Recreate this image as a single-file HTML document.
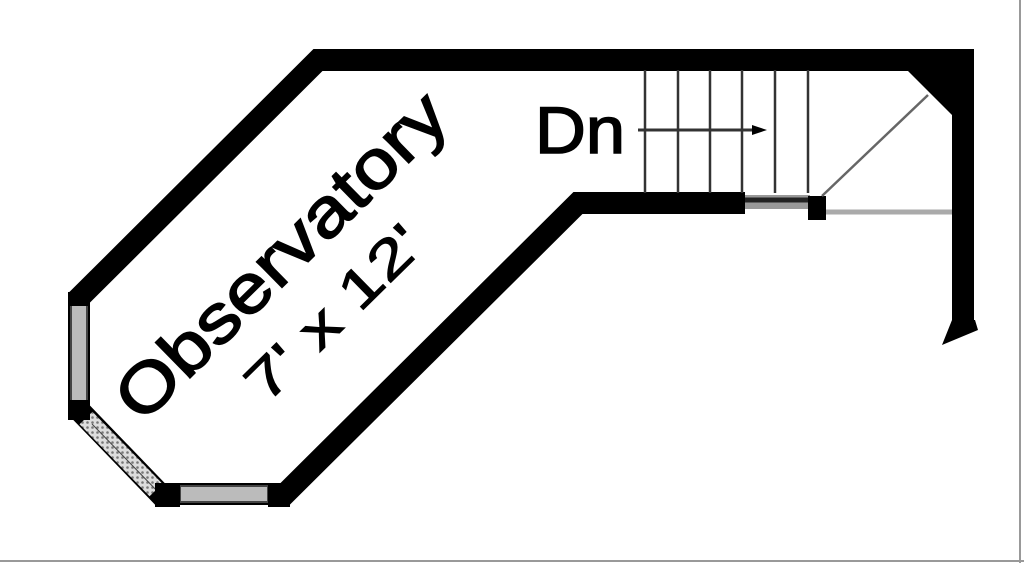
<!DOCTYPE html>
<html><head><meta charset="utf-8"><style>
html,body{margin:0;padding:0;background:#fff;width:1024px;height:563px;overflow:hidden}
svg{display:block}
text{font-family:"Liberation Sans",sans-serif;fill:#000;stroke:#000;stroke-width:1.6}
</style></head><body>
<svg width="1024" height="563" viewBox="0 0 1024 563">
<defs>
<pattern id="hatch" width="5" height="5" patternUnits="userSpaceOnUse">
<rect width="5" height="5" fill="#ddd"/><circle cx="2.5" cy="2.5" r="1.3" fill="#777"/>
</pattern>
</defs>
<line x1="1020" y1="0" x2="1020" y2="563" stroke="#999" stroke-width="2"/>
<line x1="0" y1="561" x2="1024" y2="561" stroke="#999" stroke-width="2"/>
<polyline points="963,330 963,60 318,60 79,298 79,410 160,494 285,494 578,203 745,203" fill="none" stroke="#000" stroke-width="22" stroke-linejoin="miter"/>
<polygon points="905,68 955,68 955,118" fill="#000"/>
<polygon points="952,320 975,320 978,330 942,345" fill="#000"/>
<rect x="71" y="305" width="16" height="97" fill="#bbb" stroke="#444" stroke-width="2"/>
<rect x="180" y="486" width="88" height="16" fill="#bbb" stroke="#444" stroke-width="2"/>
<line x1="86" y1="418" x2="156" y2="490" stroke="url(#hatch)" stroke-width="18"/>
<line x1="92" y1="424" x2="162" y2="496" stroke="#444" stroke-width="1"/>
<rect x="68" y="292" width="22" height="14" fill="#000"/>
<rect x="68" y="400" width="22" height="20" fill="#000"/>
<rect x="155" y="483" width="25" height="24" fill="#000"/>
<rect x="268" y="483" width="22" height="24" fill="#000"/>
<g stroke="#333" stroke-width="2.5">
<line x1="645" y1="70" x2="645" y2="193"/><line x1="678" y1="70" x2="678" y2="193"/>
<line x1="710" y1="70" x2="710" y2="193"/><line x1="742" y1="70" x2="742" y2="193"/>
<line x1="775" y1="70" x2="775" y2="193"/><line x1="808" y1="70" x2="808" y2="193"/>
</g>
<rect x="745" y="195" width="65" height="14" fill="#999"/>
<line x1="745" y1="200" x2="810" y2="200" stroke="#222" stroke-width="5"/>
<line x1="638" y1="130" x2="755" y2="130" stroke="#333" stroke-width="3"/>
<polygon points="752,125 767,130 752,135" fill="#000"/>
<rect x="808" y="196" width="18" height="24" fill="#000"/>
<line x1="822" y1="196" x2="928" y2="95" stroke="#666" stroke-width="2.5"/>
<line x1="826" y1="212" x2="952" y2="212" stroke="#aaa" stroke-width="5"/>
<text x="535" y="153" font-size="66" textLength="90" lengthAdjust="spacingAndGlyphs">Dn</text>
<text transform="translate(280,255) rotate(-44.5)" text-anchor="middle" dy="0.36em" font-size="68" textLength="435" lengthAdjust="spacingAndGlyphs">Observatory</text>
<text transform="translate(333,312) rotate(-44.5)" text-anchor="middle" dy="0.36em" font-size="54" textLength="225" lengthAdjust="spacingAndGlyphs" style="stroke-width:1">7' x 12'</text>
</svg>
</body></html>
